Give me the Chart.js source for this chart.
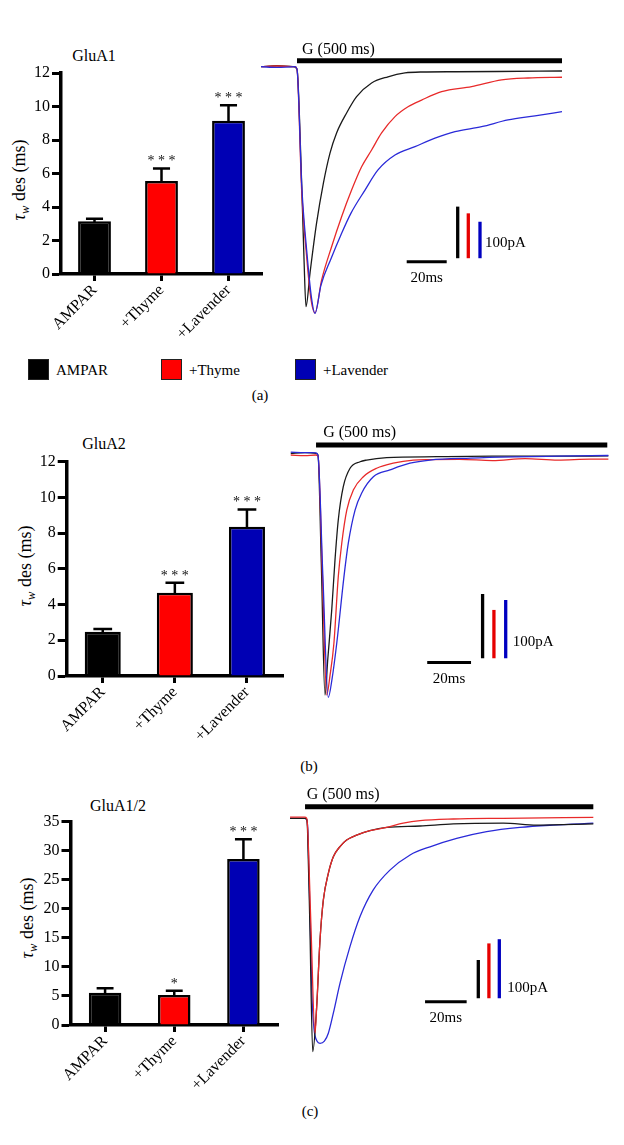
<!DOCTYPE html>
<html>
<head>
<meta charset="utf-8">
<script src="https://cdn.jsdelivr.net/npm/chart.js@4.4.1/dist/chart.umd.min.js"></script>
<style>
html,body{margin:0;padding:0;background:#fff;}
body{width:624px;height:1145px;position:relative;overflow:hidden;font-family:"Liberation Serif","Times New Roman",serif;color:#000;}
canvas{position:absolute;}
.lbl{position:absolute;transform:translate(-50%,-50%);white-space:nowrap;}
.yt{position:absolute;transform:translate(-50%,-50%) rotate(-90deg);white-space:nowrap;font-size:18px;}
.yt sub{font-size:0.7em;vertical-align:-0.25em;}
.sq{position:absolute;width:19px;height:19px;border:1.5px solid #222;}
.lt{position:absolute;font-size:15px;transform:translateY(-50%);white-space:nowrap;}
</style>
</head>
<body>
<div class="lbl" style="left:94px;top:56px;font-size:16px">GluA1</div>
<div class="lbl" style="left:104px;top:444px;font-size:16px">GluA2</div>
<div class="lbl" style="left:118px;top:806px;font-size:16px">GluA1/2</div>
<div class="yt" style="left:21px;top:180px"><i>τ</i><sub><i>w</i></sub> des (ms)</div>
<div class="yt" style="left:27px;top:566px"><i>τ</i><sub><i>w</i></sub> des (ms)</div>
<div class="yt" style="left:29px;top:918px"><i>τ</i><sub><i>w</i></sub> des (ms)</div>

<div class="sq" style="left:28px;top:359px;background:#000"></div>
<div class="lt" style="left:56px;top:370px">AMPAR</div>
<div class="sq" style="left:161px;top:359px;background:#ff0000"></div>
<div class="lt" style="left:189px;top:370px">+Thyme</div>
<div class="sq" style="left:295px;top:359px;background:#0000b4"></div>
<div class="lt" style="left:323px;top:370px">+Lavender</div>

<div class="lbl" style="left:260px;top:395px;font-size:15px">(a)</div>
<div class="lbl" style="left:309px;top:766px;font-size:15px">(b)</div>
<div class="lbl" style="left:310px;top:1111px;font-size:15px">(c)</div>

<script>
// ---------------- DATA ----------------
const categories = ["AMPAR", "+Thyme", "+Lavender"];

const gluA1Mean  = [3.15, 5.55, 9.15];
const gluA1Sem   = [0.15, 0.75, 0.92];
const gluA1Stars = ["", "***", "***"];

const gluA2Mean  = [2.48, 4.66, 8.36];
const gluA2Sem   = [0.15, 0.56, 0.97];
const gluA2Stars = ["", "***", "***"];

const gluA12Mean  = [5.56, 5.16, 28.57];
const gluA12Sem   = [0.75, 0.74, 3.43];
const gluA12Stars = ["", "*", "***"];

const ticks12 = [0, 2, 4, 6, 8, 10, 12];
const ticks35 = [0, 5, 10, 15, 20, 25, 30, 35];

// Traces: time (ms from glutamate onset), current normalised to AMPAR peak (-1)
const tA_black = [-18,-10,-2,0,2,3.5,4.5,6.5,9.8,13.2,16.5,19.8,24.8,29.8,37.3,45.5,54,62.3,79,100,132.5];
const iA_black = [0,0.004,0,-0.01,-0.4,-0.8,-1.0,-0.86,-0.651,-0.485,-0.36,-0.276,-0.193,-0.125,-0.068,-0.042,-0.026,-0.022,-0.021,-0.02,-0.018];
const tA_red = [-18,-10,-1,0,2.3,4.8,7,9,12.3,17.3,22.3,27.3,32.3,37.3,42.3,49,55.5,62.3,72.3,87.3,102.3,115.5,132.5];
const iA_red = [0,0.003,0,-0.01,-0.51,-0.79,-0.97,-1.026,-0.889,-0.75,-0.625,-0.514,-0.417,-0.347,-0.276,-0.208,-0.167,-0.139,-0.104,-0.083,-0.055,-0.047,-0.044];
const tA_blue = [-18,-10,-1,0,2.4,5,7.2,9,12,17,22,27,34,40.5,49,59,69,79,92.3,105.5,119,132.5];
const iA_blue = [0,-0.003,0,-0.01,-0.5,-0.78,-0.96,-1.028,-0.91,-0.8,-0.7,-0.61,-0.514,-0.43,-0.368,-0.333,-0.298,-0.271,-0.25,-0.222,-0.205,-0.1875];

const tB_black = [-12.5,-6,-1,0,1.5,3.2,4.5,6.3,7.8,9.3,11.6,14.7,19.3,22.3,31.5,54.4,80,110,133.2];
const iB_black = [0,0.003,0,-0.007,-0.45,-1.0,-0.85,-0.648,-0.441,-0.276,-0.138,-0.062,-0.035,-0.028,-0.018,-0.014,-0.012,-0.012,-0.011];
const tB_red = [-12.5,-6,-1,0,2,4,5.5,7.3,9.3,10.9,13.2,16.2,20.8,26.9,34.5,43.7,51.4,65,80,95,110,125,133.2];
const iB_red = [-0.007,-0.01,-0.007,-0.01,-0.5,-1.0,-0.92,-0.786,-0.511,-0.372,-0.235,-0.152,-0.097,-0.062,-0.041,-0.028,-0.026,-0.025,-0.03,-0.022,-0.028,-0.024,-0.024];
const tB_blue = [-12.5,-6,-1,0,2.2,4.7,6.5,8.6,11.9,13.9,17,20,25.4,33,42.2,51.4,70,90,110,133.2];
const iB_blue = [0.005,0.003,0.002,-0.01,-0.5,-1.01,-0.93,-0.786,-0.511,-0.372,-0.235,-0.165,-0.097,-0.069,-0.041,-0.028,-0.02,-0.015,-0.012,-0.009];

const tC_black = [-8,-1,0,0.4,1.5,2.9,4.8,6.4,8.0,10.4,12.8,16,19.2,24,30.4,38.5,54.5,70.5,94.5,110.6,137.8];
const iC_black = [0,0,-0.005,-0.05,-0.45,-1.0,-0.807,-0.521,-0.35,-0.236,-0.165,-0.121,-0.093,-0.072,-0.053,-0.039,-0.033,-0.024,-0.021,-0.029,-0.024];
const tC_red = [-8,-1,0,0.5,2,4,4.8,6.4,8,10.4,12.8,16,19.2,24,30.4,38.5,46.4,54.5,70.5,94.5,137.8];
const iC_red = [0.005,0.005,0,-0.05,-0.45,-0.92,-0.807,-0.521,-0.35,-0.236,-0.165,-0.121,-0.093,-0.072,-0.053,-0.039,-0.021,-0.01,-0.003,0,0.004];
const tC_blue = [-8,-1,0,0.6,2.5,3.5,5,6.4,8.5,10.4,12.8,16,20.8,25.6,32,40,49.7,59.3,72.1,86.5,102.5,118.6,137.8];
const iC_blue = [0,0,-0.005,-0.06,-0.75,-0.9,-0.955,-0.964,-0.955,-0.921,-0.835,-0.707,-0.55,-0.422,-0.307,-0.222,-0.157,-0.122,-0.086,-0.057,-0.039,-0.029,-0.021];

// ---------------- STYLE ----------------
const SERIF = '"Liberation Serif", "Times New Roman", serif';
const barColors = ['#000000', '#ff0000', '#0000b4'];
const traceColors = ['#1a1a1a', '#e82a2a', '#2a2ad8'];
const scaleColors = ['#000000', '#e60000', '#0000c0'];

function makeCanvas(left, top, w, h) {
  const c = document.createElement('canvas');
  c.width = w; c.height = h;
  c.style.left = left + 'px'; c.style.top = top + 'px';
  c.style.width = w + 'px'; c.style.height = h + 'px';
  document.body.appendChild(c);
  return c;
}

function barChart(box, area, means, sems, stars, ticks, barPct) {
  const c = makeCanvas(box.left, box.top, box.width, box.height);
  const errPlugin = {
    id: 'errBars',
    afterDatasetsDraw(chart) {
      const ctx = chart.ctx, ys = chart.scales.y;
      const meta = chart.getDatasetMeta(0);
      ctx.save();
      meta.data.forEach((bar, i) => {
        const x = bar.x;
        const yTop = ys.getPixelForValue(means[i] + sems[i]);
        const yM = ys.getPixelForValue(means[i]);
        const cap = bar.width * 0.26;
        ctx.strokeStyle = '#000'; ctx.lineWidth = 2.5; ctx.lineCap = 'butt';
        ctx.beginPath();
        ctx.moveTo(x, yM + 1); ctx.lineTo(x, yTop);
        ctx.moveTo(x - cap, yTop); ctx.lineTo(x + cap, yTop);
        ctx.stroke();
        if (stars[i]) {
          ctx.fillStyle = '#111';
          ctx.font = '14px ' + SERIF;
          ctx.textAlign = 'center'; ctx.textBaseline = 'alphabetic';
          ctx.fillText(stars[i].split('').join(' '), x, yTop - 3);
        }
      });
      ctx.restore();
    }
  };
  return new Chart(c, {
    type: 'bar',
    data: {
      labels: categories,
      datasets: [{
        data: means, backgroundColor: barColors, borderColor: '#000',
        borderWidth: 2.5, barPercentage: barPct, categoryPercentage: 1
      }]
    },
    options: {
      responsive: false, animation: false, events: [],
      layout: { padding: { top: area.top - box.top, right: box.left + box.width - area.right, left: 0, bottom: 0 } },
      plugins: { legend: { display: false }, tooltip: { enabled: false } },
      scales: {
        x: {
          type: 'category', offset: true,
          grid: { offset: false, drawOnChartArea: false, drawTicks: true, tickLength: 7, tickWidth: 3, color: '#000' },
          border: { display: true, color: '#000', width: 3.5 },
          ticks: { color: '#000', font: { family: SERIF, size: 16 }, maxRotation: 45, minRotation: 45, padding: 0, autoSkip: false },
          afterFit(s) { s.height = box.top + box.height - area.bottom; }
        },
        y: {
          min: 0, max: ticks[ticks.length - 1],
          afterBuildTicks(s) { s.ticks = ticks.map(v => ({ value: v })); },
          grid: { drawOnChartArea: false, drawTicks: true, tickLength: 9, tickWidth: 3, color: '#000' },
          border: { display: true, color: '#000', width: 3.5 },
          ticks: { color: '#000', font: { family: SERIF, size: 16 }, padding: 2 },
          afterFit(s) { s.width = area.left - box.left; }
        }
      }
    },
    plugins: [errPlugin]
  });
}

function traceChart(cal, series, gbar, sb) {
  const L = cal.x0 + cal.pxPerMs * cal.tMin, R = cal.x0 + cal.pxPerMs * cal.tMax;
  const T = cal.y0 - cal.pxPerUnit * cal.yMax, B = cal.y0 - cal.pxPerUnit * cal.yMin;
  const cl = Math.floor(L) - 4, ct = Math.floor(T) - 4;
  const cw = Math.ceil(R) + 4 - cl, ch = Math.ceil(B) + 4 - ct;
  const c = makeCanvas(cl, ct, cw, ch);
  const ann = {
    id: 'ann',
    afterDraw(chart) {
      const ctx = chart.ctx, xs = chart.scales.x, ys = chart.scales.y;
      const X = v => xs.getPixelForValue(v), Y = v => ys.getPixelForValue(v);
      ctx.save();
      ctx.strokeStyle = '#000'; ctx.lineCap = 'butt';
      ctx.lineWidth = 5;
      ctx.beginPath(); ctx.moveTo(X(gbar.t0), Y(gbar.y)); ctx.lineTo(X(gbar.t1), Y(gbar.y)); ctx.stroke();
      ctx.fillStyle = '#000'; ctx.font = '16px ' + SERIF;
      ctx.textAlign = 'left'; ctx.textBaseline = 'middle';
      ctx.fillText('G (500 ms)', X(gbar.tt), Y(gbar.ty));
      ctx.lineWidth = 3;
      ctx.beginPath(); ctx.moveTo(X(sb.h[0]), Y(sb.hy)); ctx.lineTo(X(sb.h[1]), Y(sb.hy)); ctx.stroke();
      ctx.font = '15px ' + SERIF; ctx.textAlign = 'center';
      ctx.fillText('20ms', X((sb.h[0] + sb.h[1]) / 2), Y(sb.hy) + 16);
      sb.vx.forEach((vx, i) => {
        ctx.strokeStyle = scaleColors[i]; ctx.lineWidth = 3.3;
        ctx.beginPath(); ctx.moveTo(X(vx), Y(sb.vb)); ctx.lineTo(X(vx), Y(sb.vb + sb.vl[i])); ctx.stroke();
      });
      ctx.textAlign = 'left';
      ctx.fillText('100pA', X(sb.lt), Y(sb.ly));
      ctx.restore();
    }
  };
  return new Chart(c, {
    type: 'line',
    data: {
      datasets: series.map((s, k) => ({
        data: s.t.map((t, i) => ({ x: t, y: s.i[i] })),
        borderColor: traceColors[s.c], borderWidth: 1.3, pointRadius: 0,
        cubicInterpolationMode: 'monotone', fill: false, order: s.order
      }))
    },
    options: {
      responsive: false, animation: false, events: [],
      layout: { padding: { left: L - cl, top: T - ct, right: cl + cw - R, bottom: ct + ch - B } },
      scales: {
        x: { type: 'linear', min: cal.tMin, max: cal.tMax, display: false },
        y: { type: 'linear', min: cal.yMin, max: cal.yMax, display: false }
      },
      plugins: { legend: { display: false }, tooltip: { enabled: false } }
    },
    plugins: [ann]
  });
}

// ---------------- PANELS ----------------
barChart({ left: 0, top: 40, width: 275, height: 305 }, { left: 61, right: 262, top: 73, bottom: 274 },
  gluA1Mean, gluA1Sem, gluA1Stars, ticks12, 0.49);
barChart({ left: 0, top: 420, width: 290, height: 335 }, { left: 66.7, right: 283, top: 461.7, bottom: 676 },
  gluA2Mean, gluA2Sem, gluA2Stars, ticks12, 0.5);
barChart({ left: 0, top: 780, width: 290, height: 325 }, { left: 70.5, right: 278, top: 821.7, bottom: 1025 },
  gluA12Mean, gluA12Sem, gluA12Stars, ticks35, 0.47);

traceChart({ x0: 297, pxPerMs: 2, y0: 66.7, pxPerUnit: 240, tMin: -20, tMax: 140, yMin: -1.1, yMax: 0.12 },
  [{ t: tA_black, i: iA_black, c: 0, order: 3 }, { t: tA_red, i: iA_red, c: 1, order: 2 }, { t: tA_blue, i: iA_blue, c: 2, order: 1 }],
  { t0: 0, t1: 132.5, y: 0.025, tt: 2.5, ty: 0.07 },
  { h: [54.85, 74.85], hy: -0.8125, vx: [80.35, 85.65, 91.5], vb: -0.798, vl: [0.215, 0.187, 0.152], lt: 94, ly: -0.733 });

traceChart({ x0: 318, pxPerMs: 2.18, y0: 453.3, pxPerUnit: 241.7, tMin: -14, tMax: 136, yMin: -1.1, yMax: 0.12 },
  [{ t: tB_black, i: iB_black, c: 0, order: 3 }, { t: tB_red, i: iB_red, c: 1, order: 2 }, { t: tB_blue, i: iB_blue, c: 2, order: 1 }],
  { t0: -0.9, t1: 132.7, y: 0.034, tt: 2.4, ty: 0.084 },
  { h: [50.1, 70.2], hy: -0.866, vx: [75.5, 80.7, 86.1], vb: -0.848, vl: [0.266, 0.2, 0.241], lt: 89.3, ly: -0.779 });

traceChart({ x0: 306.7, pxPerMs: 2.08, y0: 818.3, pxPerUnit: 233.4, tMin: -9, tMax: 142, yMin: -1.05, yMax: 0.14 },
  [{ t: tC_blue, i: iC_blue, c: 2, order: 3 }, { t: tC_black, i: iC_black, c: 0, order: 2 }, { t: tC_red, i: iC_red, c: 1, order: 1 }],
  { t0: -0.8, t1: 137.8, y: 0.05, tt: 0, ty: 0.1 },
  { h: [56.9, 76.9], hy: -0.786, vx: [82.5, 87.6, 92.6], vb: -0.771, vl: [0.164, 0.235, 0.253], lt: 96.4, ly: -0.728 });
</script>
</body>
</html>
